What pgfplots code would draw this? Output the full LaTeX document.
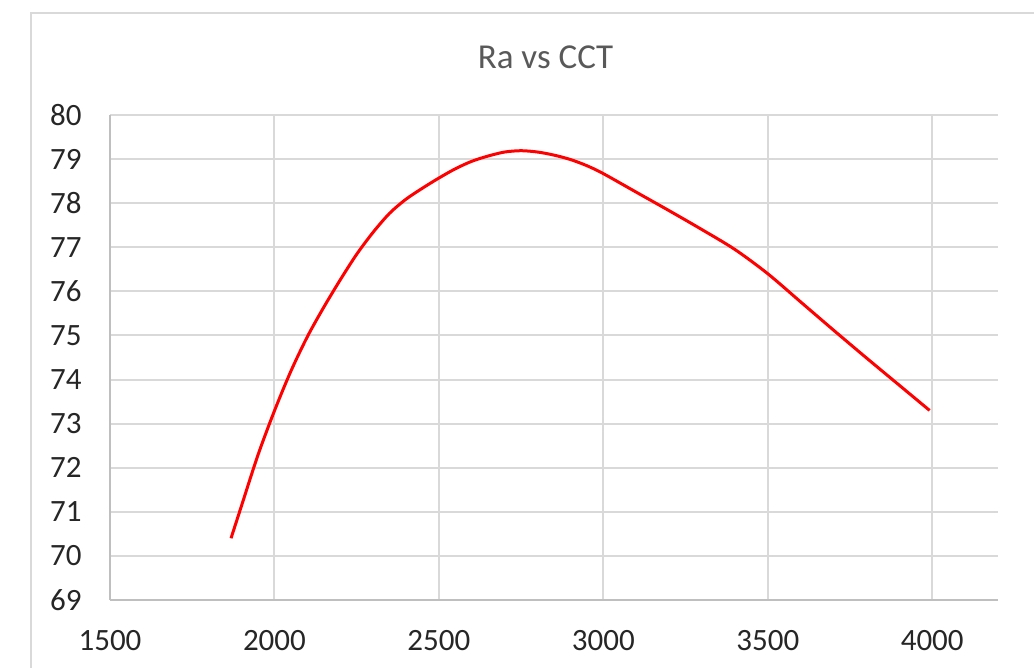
\documentclass[border=0pt]{standalone}
\usepackage{fontspec}
\setmainfont{Carlito}
\usepackage{pgfplots}
\pgfplotsset{compat=1.18}
\definecolor{gridc}{HTML}{D9D9D9}
\definecolor{axc}{HTML}{BFBFBF}
\definecolor{titlec}{HTML}{595959}
\definecolor{tickc}{HTML}{262626}
\begin{document}
\begin{tikzpicture}
\path[use as bounding box] (-55pt,-34pt) rectangle (462pt,300pt);
\draw[gridc, line width=1pt] (-39.65pt,-40pt) -- (-39.65pt,293.5pt) -- (470pt,293.5pt);
\begin{axis}[
  at={(0,0)}, anchor=south west,
  scale only axis,
  width=444pt, height=242.5pt,
  xmin=1500, xmax=4200, ymin=69, ymax=80,
  xtick={1500,2000,2500,3000,3500,4000},
  ytick={69,70,71,72,73,74,75,76,77,78,79,80},
  grid=major,
  grid style={draw=gridc, line width=1pt},
  axis x line*=bottom, axis y line*=left,
  axis line style={draw=axc, line width=1pt, -},
  major tick length=0pt,
  tick style={draw=none},
  /pgf/number format/assume math mode=true,
  /pgf/number format/1000 sep={},
  tick label style={font=\fontsize{15.5}{18}\selectfont, text=tickc, inner sep=0pt},
  xticklabel style={anchor=north, yshift=-15pt},
  yticklabel style={anchor=east, xshift=-14pt},
  clip=false,
]
\addplot[red, line width=1.5pt, smooth, tension=0.5] coordinates {
(1868,70.40) (1900,71.14) (1950,72.29) (2000,73.29) (2050,74.19) (2100,74.97)
(2150,75.64) (2200,76.26) (2250,76.84) (2300,77.34) (2350,77.77) (2400,78.09)
(2450,78.34) (2500,78.57) (2550,78.78) (2600,78.95) (2650,79.07) (2700,79.16)
(2750,79.19) (2800,79.16) (2850,79.09) (2900,78.99) (2950,78.85) (3000,78.67)
(3100,78.25) (3200,77.83) (3300,77.40) (3400,76.95) (3500,76.40) (3600,75.76)
(3700,75.12) (3800,74.49) (3900,73.87) (3992,73.30)
};
\end{axis}
\node[text=titlec, font=\fontsize{17.5}{21}\selectfont, anchor=base] at (217.75pt,265.5pt) {Ra vs CCT};
\end{tikzpicture}
\end{document}
